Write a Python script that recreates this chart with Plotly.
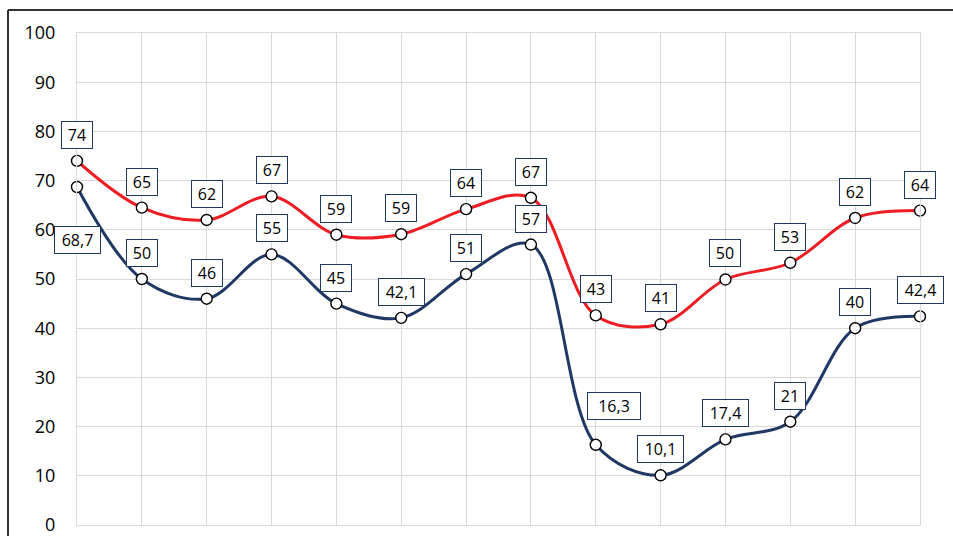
import plotly.graph_objects as go

# ---- data ----
categories = list(range(14))
red_values = [74, 64.5, 62, 66.8, 59, 59.1, 64.2, 66.5, 42.6, 40.8, 49.9, 53.3, 62.4, 63.9]
red_labels = ["74", "65", "62", "67", "59", "59", "64", "67", "43", "41", "50", "53", "62", "64"]
blue_values = [68.7, 50, 46, 55, 45, 42.1, 51, 57, 16.3, 10.1, 17.4, 21, 40, 42.4]
blue_labels = ["68,7", "50", "46", "55", "45", "42,1", "51", "57", "16,3", "10,1", "17,4", "21", "40", "42,4"]
y_ticks = [0, 10, 20, 30, 40, 50, 60, 70, 80, 90, 100]

# ---- style ----
W, H = 953, 536
ML, MR, MT, MB = 77, 33, 33, 11
RED = "#EE1D23"
NAVY = "#1F3864"
GRID = "#D9D9D9"
FONT = "Open Sans"

fig = go.Figure()
for vals, color in ((red_values, RED), (blue_values, NAVY)):
    fig.add_trace(go.Scatter(
        x=categories, y=vals, mode="lines+markers",
        line=dict(color=color, width=3, shape="spline", smoothing=1.0),
        marker=dict(size=11, color="white", line=dict(color="black", width=1.4)),
        showlegend=False, hoverinfo="skip", cliponaxis=False,
    ))

# label offsets / widths (pixels) for manually placed labels
blue_offsets = {0: (0, -53), 8: (18, 39)}
blue_widths = {8: 48}

annotations = []
def add_label(i, v, txt, dx=0, dy=26, w=None):
    if w is None:
        w = 26 if len(txt) <= 2 else 41
    annotations.append(dict(
        x=categories[i], y=v, xref="x", yref="y", text=txt, showarrow=False,
        xshift=dx, yshift=dy,
        font=dict(family=FONT, size=16, color="black"),
        bgcolor="white", bordercolor=NAVY, borderwidth=1, borderpad=2,
        width=w, height=22,
    ))

for i, (v, t) in enumerate(zip(red_values, red_labels)):
    add_label(i, v, t)
for i, (v, t) in enumerate(zip(blue_values, blue_labels)):
    dx, dy = blue_offsets.get(i, (0, 26))
    add_label(i, v, t, dx, dy, blue_widths.get(i))

pw = W - ML - MR
ph = H - MT - MB
def px_x(p):
    return (p - ML) / pw
def px_y(p):
    return 1 - (p - MT) / ph

shapes = [
    dict(type="line", xref="paper", yref="paper", x0=px_x(8), x1=px_x(960),
         y0=px_y(10), y1=px_y(10), line=dict(color="#333333", width=2)),
    dict(type="line", xref="paper", yref="paper", x0=px_x(8), x1=px_x(8),
         y0=px_y(10), y1=px_y(545), line=dict(color="#333333", width=2)),
]

fig.update_layout(
    width=W, height=H,
    margin=dict(l=ML, r=MR, t=MT, b=MB, autoexpand=False),
    paper_bgcolor="white", plot_bgcolor="white",
    annotations=annotations, shapes=shapes,
    font=dict(family=FONT, color="black"),
)
fig.update_xaxes(
    range=[0, 13], tickvals=categories, showticklabels=False,
    showgrid=True, gridcolor=GRID, gridwidth=1, zeroline=False,
    showline=True, mirror=True, linecolor=GRID, linewidth=1, fixedrange=True,
    automargin=False,
)
fig.update_yaxes(
    range=[0, 100], tickvals=y_ticks, ticktext=[str(t) for t in y_ticks],
    showgrid=True, gridcolor=GRID, gridwidth=1, zeroline=False,
    showline=True, mirror=True, linecolor=GRID, linewidth=1,
    ticks="outside", ticklen=17, tickcolor="rgba(0,0,0,0)",
    ticklabeloverflow="allow", automargin=False,
    tickfont=dict(family=FONT, size=18, color="black"), fixedrange=True,
)

fig.write_html("out.html")
